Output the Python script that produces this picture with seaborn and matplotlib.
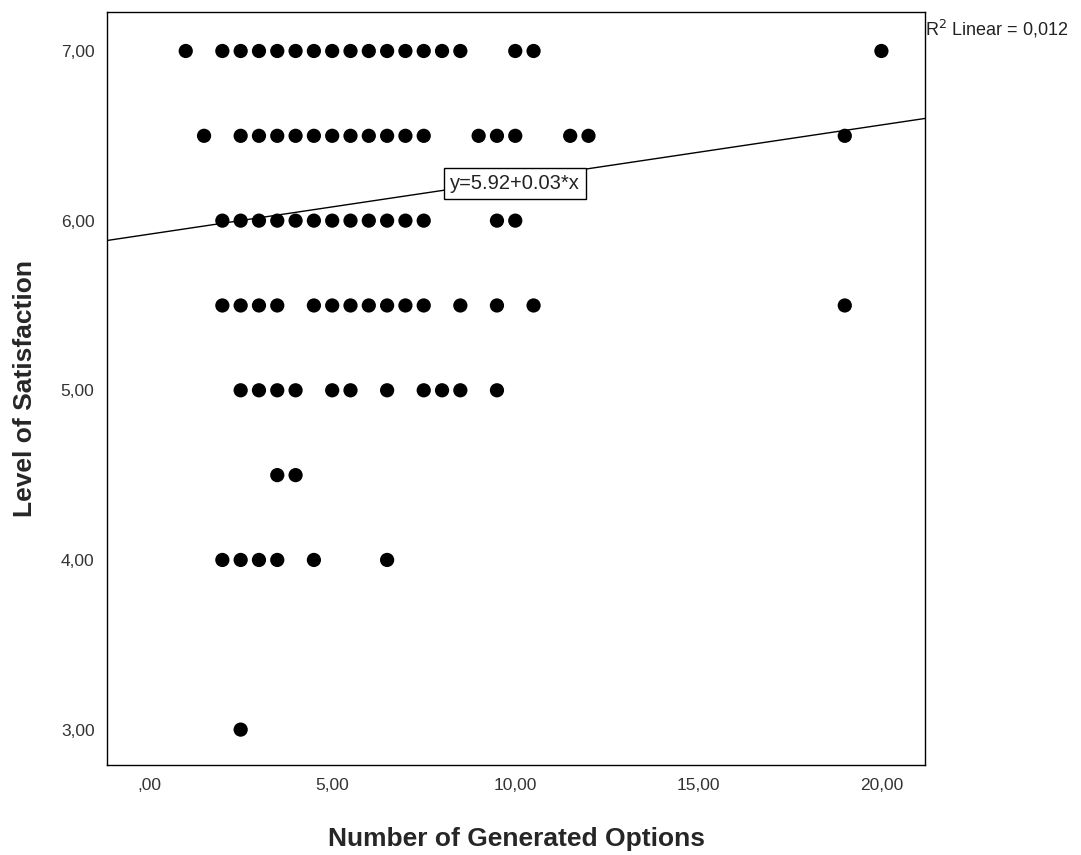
import numpy as np
import pandas as pd
import matplotlib
matplotlib.use("Agg")
import matplotlib.pyplot as plt
import seaborn as sns

# number of generated options, grouped by satisfaction level
opts_700 = [1.0, 2.0, 2.5, 3.0, 3.5, 4.0, 4.5, 5.0, 5.5, 6.0, 6.5, 7.0, 7.5, 8.0, 8.5, 10.0, 10.5, 20.0]
opts_650 = [1.5, 2.5, 3.0, 3.5, 4.0, 4.5, 5.0, 5.5, 6.0, 6.5, 7.0, 7.5, 9.0, 9.5, 10.0, 11.5, 12.0, 19.0]
opts_600 = [2.0, 2.5, 3.0, 3.5, 4.0, 4.5, 5.0, 5.5, 6.0, 6.5, 7.0, 7.5, 9.5, 10.0]
opts_550 = [2.0, 2.5, 3.0, 3.5, 4.5, 5.0, 5.5, 6.0, 6.5, 7.0, 7.5, 8.5, 9.5, 10.5, 19.0]
opts_500 = [2.5, 3.0, 3.5, 4.0, 5.0, 5.5, 6.5, 7.5, 8.0, 8.5, 9.5]
opts_450 = [3.5, 4.0]
opts_400 = [2.0, 2.5, 3.0, 3.5, 4.5, 6.5]
opts_300 = [2.5]

levels = [7.0, 6.5, 6.0, 5.5, 5.0, 4.5, 4.0, 3.0]
rows = [opts_700, opts_650, opts_600, opts_550, opts_500, opts_450, opts_400, opts_300]

# fit line as reported by SPSS
intercept = 5.92
slope = 0.0322
fit_label = "y=5.92+0.03*x"
r2_label = "R$^2$ Linear = 0,012"

x_ticks = [0, 5, 10, 15, 20]
x_ticklabels = [",00", "5,00", "10,00", "15,00", "20,00"]
y_ticks = [3, 4, 5, 6, 7]
y_ticklabels = ["3,00", "4,00", "5,00", "6,00", "7,00"]

df = pd.DataFrame({
    "options": [x for r in rows for x in r],
    "satisfaction": [lv for lv, r in zip(levels, rows) for _ in r],
})

sns.set_style("white")
plt.rcParams["font.family"] = ["Liberation Sans", "DejaVu Sans"]

fig = plt.figure(figsize=(10.81, 8.55), dpi=100)
ax = fig.add_axes([0.099, 0.105, 0.757, 0.881])

sns.scatterplot(data=df, x="options", y="satisfaction", ax=ax,
                color="black", s=105, edgecolor="none", linewidth=0)

ax.axline((0, intercept), slope=slope, color="black", linewidth=1)

ax.text(10.0, 6.22, fit_label, ha="center", va="center", fontsize=14.5,
        color="#222222",
        bbox=dict(boxstyle="square,pad=0.3", facecolor="white", edgecolor="black", linewidth=1))
ax.text(1.0, 0.977, r2_label, transform=ax.transAxes, ha="left", va="center",
        fontsize=13, color="#222222")

ax.set_xlim(-1.15, 21.2)
ax.set_ylim(2.79, 7.23)
ax.set_xticks(x_ticks)
ax.set_xticklabels(x_ticklabels)
ax.set_yticks(y_ticks)
ax.set_yticklabels(y_ticklabels)
ax.tick_params(length=0, labelsize=12.5, colors="#333333", pad=9)

ax.set_xlabel("Number of Generated Options", fontsize=19, fontweight="bold", labelpad=25)
ax.set_ylabel("Level of Satisfaction", fontsize=19, fontweight="bold", labelpad=17)

for sp in ax.spines.values():
    sp.set_color("black")
    sp.set_linewidth(1)

fig.savefig("out.png", dpi=100)
